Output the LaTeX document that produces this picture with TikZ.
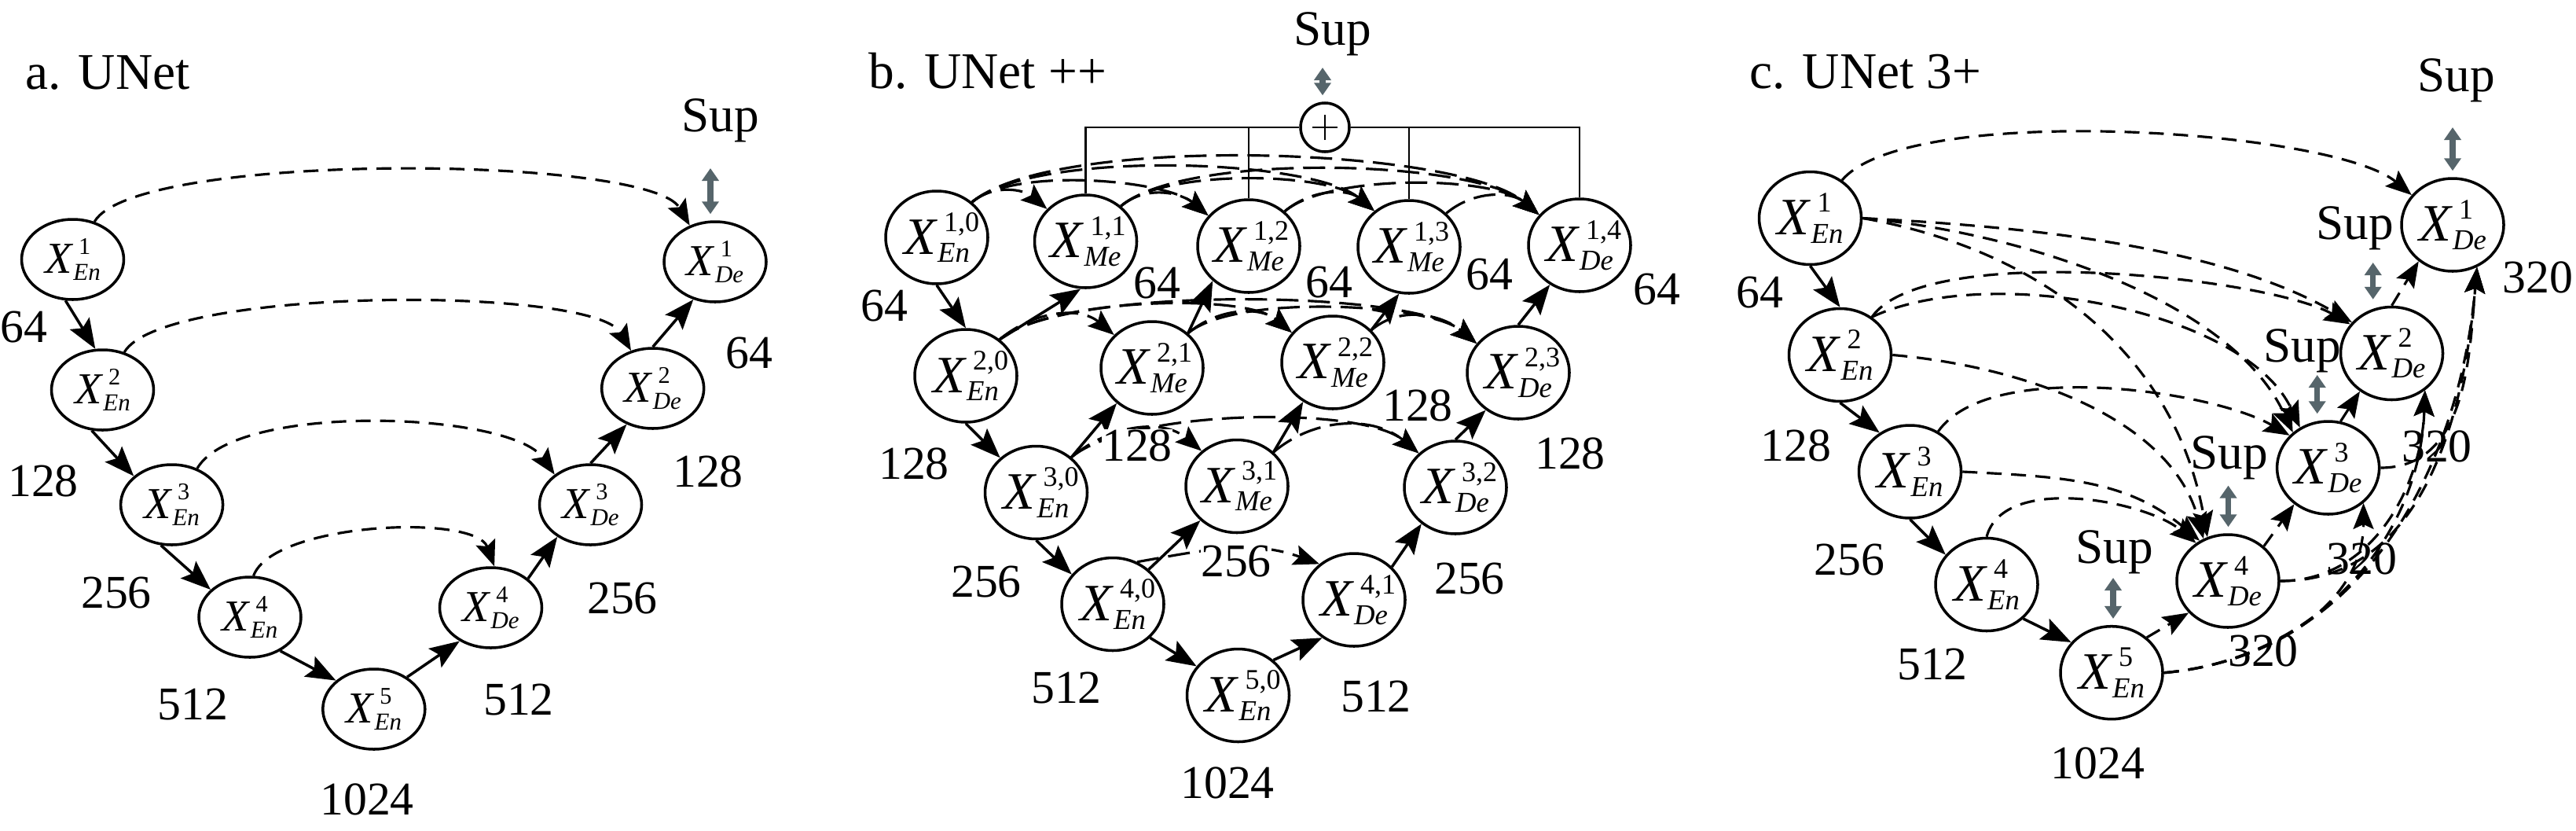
\documentclass[tikz,border=0pt]{standalone}
\usepackage{fontspec}
\setmainfont{Liberation Serif}
\usetikzlibrary{arrows.meta,shapes.geometric,positioning}
\definecolor{supgray}{HTML}{56656B}
\makeatletter
\newcommand{\xnode}[2]{\textit{X}\rlap{\kern0.12em\raisebox{0.43em}{\fontsize{\fpeval{0.54*\f@size}}{0}\selectfont #1}}\raisebox{-0.16em}{\fontsize{\fpeval{0.55*\f@size}}{0}\selectfont\itshape #2}}
\makeatother

\begin{document}
\begin{tikzpicture}[
  unode/.style={ellipse, draw, line width=1pt, inner sep=0pt, minimum width=1.3cm, minimum height=1.02cm, font=\fontsize{16}{19}\selectfont},
  pnode/.style={unode, minimum height=1.18cm, font=\fontsize{19}{22}\selectfont},
  sumnode/.style={circle, draw, line width=1pt, inner sep=0pt, minimum size=6.2mm,
    path picture={\draw[line width=0.8pt] (path picture bounding box.center) +(-1.6mm,0) -- +(1.6mm,0)
      (path picture bounding box.center) +(0,-1.6mm) -- +(0,1.6mm);}},
  lbl/.style={inner sep=0pt, font=\fontsize{17}{20}\selectfont},
  ttl/.style={anchor=base west, inner sep=0pt, font=\fontsize{18.6}{22}\selectfont},
  suplbl/.style={anchor=base, inner sep=0pt, font=\fontsize{18}{21}\selectfont},
  enc/.style={line width=1pt, -{Stealth[length=3.8mm,width=2.9mm,inset=0.7mm]}},
  skipln/.style={line width=0.9pt, dash pattern=on 1.9mm off 1.2mm, -{Stealth[length=3.3mm,width=2.6mm,inset=0.6mm]}},
  skipb/.style={skipln, dash pattern=on 2.8mm off 1.2mm},
  sumline/.style={line width=0.8pt},
  supar/.style={draw=supgray, line width=0.75mm, shorten >=0.8mm, {Triangle[width=2.1mm,length=1.6mm]}-{Triangle[width=2.1mm,length=1.6mm]}}
]
  \useasboundingbox (0,0) rectangle (32.78,-10.56);

  % ---------- a. UNet ----------
  % Define nodes
  \node[ttl] (ta) at (0.32,-1.13) {a. UNet};
  \node[unode] (e1a) at (0.925,-3.30) {\xnode{1}{En}};
  \node[unode] (e2a) at (1.305,-4.96) {\xnode{2}{En}};
  \node[unode] (e3a) at (2.186,-6.42) {\xnode{3}{En}};
  \node[unode] (e4a) at (3.18,-7.85) {\xnode{4}{En}};
  \node[unode] (e5a) at (4.758,-9.02) {\xnode{5}{En}};
  \node[unode] (d4a) at (6.245,-7.73) {\xnode{4}{De}};
  \node[unode] (d3a) at (7.515,-6.42) {\xnode{3}{De}};
  \node[unode] (d2a) at (8.307,-4.94) {\xnode{2}{De}};
  \node[unode] (d1a) at (9.10,-3.33) {\xnode{1}{De}};
  \node[lbl] (ca1) at (0.30,-4.16) {64};
  \node[lbl] (ca2) at (0.55,-6.12) {128};
  \node[lbl] (ca3) at (1.48,-7.54) {256};
  \node[lbl] (ca4) at (2.455,-8.96) {512};
  \node[lbl] (ca5) at (4.67,-10.17) {1024};
  \node[lbl] (ca6) at (6.60,-8.90) {512};
  \node[lbl] (ca7) at (7.92,-7.61) {256};
  \node[lbl] (ca8) at (9.01,-6.00) {128};
  \node[lbl] (ca9) at (9.535,-4.495) {64};
  \node[suplbl] (supa) at (9.17,-1.675) {Sup};
  \coordinate (sa) at (9.04,-2.14);
  % Connect the nodes
  \draw[enc] (e1a.260) -- (e2a.100); %
  \draw[enc] (e2a.255) -- (e3a.143); %
  \draw[enc] (e3a.255) -- (e4a.145); %
  \draw[enc] (e4a.-48) -- (e5a.143); %
  \draw[enc] (e5a.44) -- (d4a.227); %
  \draw[enc] (d4a.38) -- (d3a.224); %
  \draw[enc] (d3a.north) -- (d2a.234); %
  \draw[enc] (d2a.north) -- (d1a.240); %
  \draw[skipln] (e1a.60) to[out=60,in=120,looseness=0.35] (d1a.125); %
  \draw[skipln] (e2a.60) to[out=60,in=120,looseness=0.38] (d2a.120); %
  \draw[skipln] (e3a.55) to[out=60,in=125,looseness=0.55] (d3a.140); %
  \draw[skipln] (e4a.85) to[out=70,in=110,looseness=0.6] (d4a.85); %
  \draw[supar] (sa) -- (sa |- d1a.north); %

  % ---------- b. UNet ++ ----------
  % Define nodes
  \node[ttl] (tb) at (11.05,-1.12) {b. UNet ++};
  \node[pnode] (x10) at (11.92,-3.02) {\xnode{1,0}{En}};
  \node[pnode] (x11) at (13.815,-3.07) {\xnode{1,1}{Me}};
  \node[pnode] (x12) at (15.89,-3.13) {\xnode{1,2}{Me}};
  \node[pnode] (x13) at (17.93,-3.14) {\xnode{1,3}{Me}};
  \node[pnode] (x14) at (20.10,-3.12) {\xnode{1,4}{De}};
  \node[pnode] (x20) at (12.29,-4.78) {\xnode{2,0}{En}};
  \node[pnode] (x21) at (14.66,-4.68) {\xnode{2,1}{Me}};
  \node[pnode] (x22) at (16.96,-4.61) {\xnode{2,2}{Me}};
  \node[pnode] (x23) at (19.32,-4.74) {\xnode{2,3}{De}};
  \node[pnode] (x30) at (13.185,-6.265) {\xnode{3,0}{En}};
  \node[pnode] (x31) at (15.74,-6.185) {\xnode{3,1}{Me}};
  \node[pnode] (x32) at (18.52,-6.20) {\xnode{3,2}{De}};
  \node[pnode] (x40) at (14.16,-7.685) {\xnode{4,0}{En}};
  \node[pnode] (x41) at (17.23,-7.63) {\xnode{4,1}{De}};
  \node[pnode] (x50) at (15.755,-8.845) {\xnode{5,0}{En}};
  \node[sumnode] (sum) at (16.86,-1.62) {};
  \node[suplbl] (supb) at (16.96,-0.57) {Sup};
  \coordinate (sb) at (16.83,-0.86);
  % Connect the nodes
  \draw[enc] (x10.south) -- (x20.north); %
  \draw[enc] (x20.south) -- (x30.136); %
  \draw[enc] (x30.south) -- (x40.144); %
  \draw[enc] (x40.-42) -- (x50.145); %
  \draw[enc] (x50.45) -- (x41.230); %
  \draw[enc] (x40.44) -- (x31.223); %
  \draw[enc] (x30.45) -- (x21.225); %
  \draw[enc] (x20.47) -- (x11.264); %
  \draw[enc] (x41.41) -- (x32.227); %
  \draw[enc] (x31.43) -- (x22.233); %
  \draw[enc] (x21.44) -- (x12.224); %
  \draw[enc] (x22.40) -- (x13.258); %
  \draw[enc] (x32.north) -- (x23.229); %
  \draw[enc] (x23.north) -- (x14.233); %
  % nested skips
  \draw[skipb] (x10.45) to[out=40,in=140] (x11.140); %
  \draw[skipb] (x10.45) to[out=40,in=140,looseness=0.6] (x12.143); %
  \draw[skipb] (x10.45) to[out=40,in=140,looseness=0.52] (x13.134); %
  \draw[skipb] (x10.45) to[out=40,in=140,looseness=0.48] (x14.143); %
  \draw[skipb] (x11.45) to[out=40,in=140] (x12.143); %
  \draw[skipb] (x11.45) to[out=40,in=140,looseness=0.6] (x13.134); %
  \draw[skipb] (x11.45) to[out=40,in=140,looseness=0.52] (x14.143); %
  \draw[skipb] (x12.44) to[out=40,in=140] (x13.134); %
  \draw[skipb] (x12.44) to[out=40,in=140,looseness=0.6] (x14.143); %
  \draw[skipb] (x13.42) to[out=40,in=140] (x14.143); %
  \draw[skipb] (x20.47) to[out=40,in=140] (x21.139); %
  \draw[skipb] (x20.47) to[out=40,in=140,looseness=0.55] (x22.144); %
  \draw[skipb] (x20.47) to[out=40,in=140,looseness=0.45] (x23.145); %
  \draw[skipb] (x21.44) to[out=40,in=140] (x22.144); %
  \draw[skipb] (x21.44) to[out=40,in=140,looseness=0.55] (x23.145); %
  \draw[skipb] (x22.40) to[out=40,in=140] (x23.145); %
  \draw[skipb] (x30.45) to[out=40,in=140] (x31.135); %
  \draw[skipb] (x30.45) to[out=40,in=140,looseness=0.55] (x32.137); %
  \draw[skipb] (x31.43) to[out=40,in=140] (x32.137); %
  \draw[skipb] (x40.60) to[out=10,in=160] (x41.134); %
  % deep supervision
  \draw[sumline] (x11.north) |- (sum.west); %
  \draw[sumline] (x14.north) |- (sum.east); %
  \draw[sumline] (x12.north) -- (x12.north |- sum.west); %
  \draw[sumline] (x13.north) -- (x13.north |- sum.east); %
  \draw[supar] (sb) -- (sb |- sum.north); %
  % channel numbers
  \node[lbl] (cb1) at (11.25,-3.89) {64};
  \node[lbl] (cb2) at (11.63,-5.90) {128};
  \node[lbl] (cb3) at (12.55,-7.40) {256};
  \node[lbl] (cb4) at (13.57,-8.75) {512};
  \node[lbl] (cb5) at (15.62,-9.955) {1024};
  \node[lbl] (cb6) at (17.51,-8.855) {512};
  \node[lbl] (cb7) at (18.70,-7.355) {256};
  \node[lbl] (cb8) at (19.98,-5.77) {128};
  \node[lbl] (cb9) at (21.08,-3.685) {64};
  \node[lbl] (cm1) at (14.72,-3.60) {64};
  \node[lbl] (cm2) at (16.91,-3.59) {64};
  \node[lbl] (cm3) at (18.95,-3.49) {64};
  \node[lbl, fill=white] (cm4) at (14.47,-5.665) {128};
  \node[lbl] (cm5) at (18.04,-5.16) {128};
  \node[lbl, fill=white] (cm6) at (15.73,-7.14) {256};

  % ---------- c. UNet 3+ ----------
  % Define nodes
  \node[ttl] (tc) at (22.26,-1.12) {c. UNet 3+};
  \node[pnode] (e1) at (23.035,-2.775) {\xnode{1}{En}};
  \node[pnode] (e2) at (23.415,-4.515) {\xnode{2}{En}};
  \node[pnode] (e3) at (24.305,-6.00) {\xnode{3}{En}};
  \node[pnode] (e4) at (25.28,-7.435) {\xnode{4}{En}};
  \node[pnode] (e5) at (26.87,-8.557) {\xnode{5}{En}};
  \node[pnode] (d4) at (28.35,-7.39) {\xnode{4}{De}};
  \node[pnode] (d3) at (29.626,-5.95) {\xnode{3}{De}};
  \node[pnode] (d2) at (30.435,-4.495) {\xnode{2}{De}};
  \node[pnode] (d1) at (31.21,-2.86) {\xnode{1}{De}};
  \node[lbl] (cc1) at (22.39,-3.72) {64};
  \node[lbl] (cc2) at (22.856,-5.665) {128};
  \node[lbl] (cc3) at (23.535,-7.115) {256};
  \node[lbl] (cc4) at (24.59,-8.45) {512};
  \node[lbl] (cc5) at (26.695,-9.705) {1024};
  \node[lbl] (cc6) at (32.296,-3.53) {320};
  \node[lbl] (cc7) at (31.01,-5.675) {320};
  \node[lbl] (cc8) at (30.055,-7.105) {320};
  \node[lbl] (cc9) at (28.80,-8.275) {320};
  \node[suplbl] (supc1) at (31.26,-1.16) {Sup};
  \node[suplbl] (supc2) at (29.97,-3.04) {Sup};
  \node[suplbl] (supc3) at (29.30,-4.60) {Sup};
  \node[suplbl] (supc4) at (28.37,-5.96) {Sup};
  \node[suplbl] (supc5) at (26.91,-7.16) {Sup};
  \coordinate (sc1) at (31.21,-1.62);
  \coordinate (sc2) at (30.197,-3.34);
  \coordinate (sc3) at (29.487,-4.77);
  \coordinate (sc4) at (28.355,-6.176);
  \coordinate (sc5) at (26.89,-7.35);
  % Connect the nodes
  \draw[enc] (e1.south) -- (e2.north); %
  \draw[enc] (e2.south) -- (e3.128); %
  \draw[enc] (e3.south) -- (e4.144); %
  \draw[enc] (e4.-43) -- (e5.143); %
  \draw[skipln] (e5.45) -- (d4.219); %
  \draw[skipln] (d4.44) -- (d3.227); %
  \draw[skipln] (d3.75) -- (d2.230); %
  \draw[skipln] (d2.north) -- (d1.227); %
  % encoder to decoder
  \draw[skipln] (e1.50) to[out=50,in=140,looseness=0.46] (d1.144); %
  \draw[skipln] (e1.east) to[out=-3,in=150,looseness=0.8] (d2.142); %
  \draw[skipln] (e1.east) to[out=-5,in=115,looseness=0.8] (d3.135); %
  \draw[skipln] (e1.east) to[out=-10,in=100] (d4.115); %
  \draw[skipln] (e2.50) to[out=55,in=150,looseness=0.5] (d2.145); %
  \draw[skipln] (e2.50) to[out=25,in=115,looseness=0.75] (d3.125); %
  \draw[skipln] (e2.east) to[out=-5,in=105,looseness=0.9] (d4.120); %
  \draw[skipln] (e3.55) to[out=55,in=150,looseness=0.65] (d3.140); %
  \draw[skipln] (e3.east) to[out=-3,in=140] (d4.125); %
  \draw[skipln] (e4.north) to[out=75,in=140,looseness=0.8] (d4.130); %
  % decoder to decoder
  \draw[skipln] (e5.east) to[out=5,in=-90] (d3.-45); %
  \draw[skipln] (e5.east) to[out=5,in=-92] (d2.-48); %
  \draw[skipln] (e5.east) to[out=5,in=-95] (d1.-60); %
  \draw[skipln] (d4.east) to[out=0,in=-92] (d2.-48); %
  \draw[skipln] (d4.east) to[out=0,in=-95] (d1.-60); %
  \draw[skipln] (d3.east) to[out=0,in=-95] (d1.-60); %
  % deep supervision
  \draw[supar] (sc1) -- (sc1 |- d1.north); %
  \draw[supar] (sc2) -- (sc2 |- d2.north); %
  \draw[supar] (sc3) -- (sc3 |- d3.north); %
  \draw[supar] (sc4) -- (sc4 |- d4.north); %
  \draw[supar] (sc5) -- (sc5 |- e5.north); %
\end{tikzpicture}
\end{document}
